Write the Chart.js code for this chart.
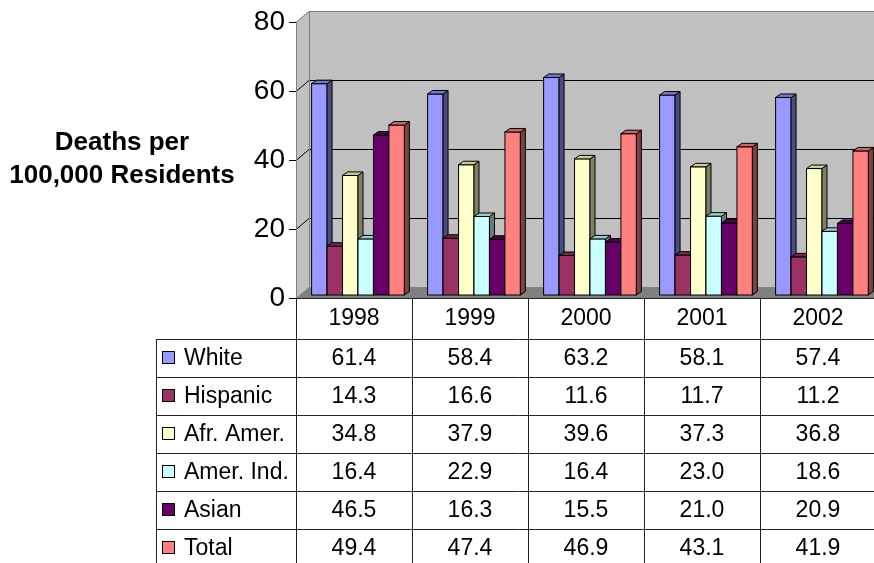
<!DOCTYPE html>
<html>
<head>
<meta charset="utf-8">
<script src="https://cdn.jsdelivr.net/npm/chart.js@4.4.1/dist/chart.umd.min.js"></script>
<style>
    html, body { margin: 0; padding: 0; background: #fff; overflow: hidden; }
    #wrap { width: 880px; height: 563px; }
</style>
</head>
<body>
<div id="wrap"><canvas id="deathChart" width="880" height="563"></canvas></div>
<script>
// Chart data
const years = ['1998', '1999', '2000', '2001', '2002'];
const seriesNames = ['White', 'Hispanic', 'Afr. Amer.', 'Amer. Ind.', 'Asian', 'Total'];
const white    = [61.4, 58.4, 63.2, 58.1, 57.4];
const hispanic = [14.3, 16.6, 11.6, 11.7, 11.2];
const afrAmer  = [34.8, 37.9, 39.6, 37.3, 36.8];
const amerInd  = [16.4, 22.9, 16.4, 23.0, 18.6];
const asian    = [46.5, 16.3, 15.5, 21.0, 20.9];
const total    = [49.4, 47.4, 46.9, 43.1, 41.9];
const yTicks   = [0, 20, 40, 60, 80];

const seriesValues = [white, hispanic, afrAmer, amerInd, asian, total];

// Excel style colours: front, side (dark), top
const frontColors = ['#9999FF', '#993366', '#FFFFCC', '#CCFFFF', '#660066', '#FF8080'];
const sideColors  = ['#4C4C80', '#4C1933', '#808066', '#668080', '#330033', '#804040'];
const topColors   = ['#7777CC', '#73264C', '#CCCC99', '#99CCCC', '#4C004C', '#CC6666'];

const FONT = '"Liberation Sans", Arial, sans-serif';
const WALL_DX = 13, WALL_DY = 11;   // depth of the back wall
const BAR_DX = 5, BAR_DY = 3.5;     // depth of each bar
const SHIFT_X = 4, SHIFT_Y = -2.5;  // bars sit a little into the floor

// Walls, floor and gridlines behind the bars, then 3D bars in series order
const wallsPlugin = {
    id: 'walls',
    beforeDatasetsDraw(chart) {
        const ctx = chart.ctx;
        const a = chart.chartArea;
        const yScale = chart.scales.y;
        ctx.save();
        // back wall
        ctx.fillStyle = '#C0C0C0';
        ctx.fillRect(a.left + WALL_DX, a.top - WALL_DY, a.right - a.left, a.bottom - a.top);
        // left wall
        ctx.beginPath();
        ctx.moveTo(a.left, a.top);
        ctx.lineTo(a.left + WALL_DX, a.top - WALL_DY);
        ctx.lineTo(a.left + WALL_DX, a.bottom - WALL_DY);
        ctx.lineTo(a.left, a.bottom);
        ctx.closePath();
        ctx.fill();
        // floor
        ctx.fillStyle = '#808080';
        ctx.beginPath();
        ctx.moveTo(a.left, a.bottom);
        ctx.lineTo(a.left + WALL_DX, a.bottom - WALL_DY);
        ctx.lineTo(a.right + WALL_DX, a.bottom - WALL_DY);
        ctx.lineTo(a.right, a.bottom);
        ctx.closePath();
        ctx.fill();

        // gridlines
        ctx.lineWidth = 1;
        yTicks.forEach(v => {
            if (v === 0) return;
            const y = Math.round(yScale.getPixelForValue(v)) + 0.5;
            ctx.strokeStyle = v === 80 ? '#808080' : '#000';
            ctx.beginPath();
            ctx.moveTo(a.left, y);
            ctx.lineTo(a.left + WALL_DX, y - WALL_DY);
            ctx.lineTo(a.right + WALL_DX, y - WALL_DY);
            ctx.stroke();
        });

        // wall edges
        ctx.strokeStyle = '#808080';
        ctx.beginPath();
        ctx.moveTo(a.left + 0.5, a.top);
        ctx.lineTo(a.left + 0.5, a.bottom);
        ctx.moveTo(a.left + WALL_DX + 0.5, a.top - WALL_DY);
        ctx.lineTo(a.left + WALL_DX + 0.5, a.bottom - WALL_DY);
        ctx.stroke();
        ctx.restore();
    },
    // the library's own flat bars are skipped, we draw them as boxes below
    beforeDatasetDraw() {
        return false;
    },
    afterDatasetsDraw(chart) {
        const ctx = chart.ctx;
        ctx.save();
        ctx.translate(SHIFT_X, SHIFT_Y);
        ctx.lineWidth = 1;
        ctx.strokeStyle = '#000';
        chart.data.datasets.forEach((ds, idx) => {
            const meta = chart.getDatasetMeta(idx);
            meta.data.forEach(bar => {
                const p = bar.getProps(['x', 'y', 'base', 'width'], true);
                const l = p.x - p.width / 2, r = p.x + p.width / 2;
                const t = p.y, b = p.base;
                // front face
                ctx.fillStyle = frontColors[idx];
                ctx.fillRect(l, t, r - l, b - t);
                ctx.strokeRect(l, t, r - l, b - t);
                // side face
                ctx.fillStyle = sideColors[idx];
                ctx.beginPath();
                ctx.moveTo(r, t);
                ctx.lineTo(r + BAR_DX, t - BAR_DY);
                ctx.lineTo(r + BAR_DX, b - BAR_DY);
                ctx.lineTo(r, b);
                ctx.closePath();
                ctx.fill();
                ctx.stroke();
                // top face
                ctx.fillStyle = topColors[idx];
                ctx.beginPath();
                ctx.moveTo(l, t);
                ctx.lineTo(l + BAR_DX, t - BAR_DY);
                ctx.lineTo(r + BAR_DX, t - BAR_DY);
                ctx.lineTo(r, t);
                ctx.closePath();
                ctx.fill();
                ctx.stroke();
            });
        });
        ctx.restore();
    }
};

// Axis title and the data table under the chart
const tablePlugin = {
    id: 'dataTable',
    afterDraw(chart) {
        const ctx = chart.ctx;
        const a = chart.chartArea;
        const xScale = chart.scales.x;
        const colW = (a.right - a.left) / years.length;
        const headTop = a.bottom;
        const rowsTop = headTop + 41;
        const rowH = 38;
        const legendLeft = 156;
        const tableBottom = rowsTop + rowH * seriesNames.length;

        ctx.save();
        // title
        ctx.fillStyle = '#000';
        ctx.font = 'bold 26px ' + FONT;
        ctx.textAlign = 'center';
        ctx.textBaseline = 'middle';
        ctx.fillText('Deaths per', 122, 143);
        ctx.fillText('100,000 Residents', 122, 176);

        // grid lines
        ctx.strokeStyle = '#222';
        ctx.lineWidth = 1;
        ctx.beginPath();
        ctx.moveTo(a.left, headTop + 0.5);
        ctx.lineTo(a.right + 10, headTop + 0.5);
        for (let i = 0; i <= seriesNames.length; i++) {
            const y = Math.round(rowsTop + i * rowH) + 0.5;
            ctx.moveTo(legendLeft, y);
            ctx.lineTo(a.right + 10, y);
        }
        for (let i = 0; i <= years.length; i++) {
            const x = Math.round(a.left + i * colW) + 0.5;
            ctx.moveTo(x, headTop);
            ctx.lineTo(x, tableBottom);
        }
        ctx.moveTo(legendLeft + 0.5, rowsTop);
        ctx.lineTo(legendLeft + 0.5, tableBottom);
        ctx.stroke();

        // header years
        ctx.font = '23px ' + FONT;
        ctx.textAlign = 'center';
        years.forEach((yr, i) => {
            ctx.fillText(yr, xScale.getPixelForValue(i), headTop + 21);
        });

        // rows
        seriesNames.forEach((name, s) => {
            const cy = rowsTop + s * rowH + rowH / 2;
            ctx.fillStyle = frontColors[s];
            ctx.fillRect(162.5, cy - 6.5, 12, 12);
            ctx.strokeStyle = '#000';
            ctx.strokeRect(162.5, cy - 6.5, 12, 12);
            ctx.fillStyle = '#000';
            ctx.textAlign = 'left';
            ctx.fillText(name, 184, cy + 1);
            ctx.textAlign = 'center';
            seriesValues[s].forEach((v, i) => {
                ctx.fillText(v.toFixed(1), xScale.getPixelForValue(i), cy + 1);
            });
        });
        ctx.restore();
    }
};

const datasets = seriesNames.map((name, i) => ({
    label: name,
    data: seriesValues[i],
    backgroundColor: frontColors[i],
    borderColor: '#000',
    borderWidth: 1,
    barPercentage: 1.0,
    categoryPercentage: 0.8
}));

new Chart(document.getElementById('deathChart'), {
    type: 'bar',
    data: { labels: years, datasets: datasets },
    options: {
        responsive: false,
        animation: false,
        layout: { padding: { top: 22, right: 4, bottom: 265, left: 0 } },
        plugins: {
            legend: { display: false },
            tooltip: { enabled: false }
        },
        scales: {
            x: { display: false },
            y: {
                min: 0,
                max: 80,
                ticks: {
                    stepSize: 20,
                    color: '#000',
                    padding: 4,
                    font: { family: FONT, size: 28 }
                },
                grid: { drawOnChartArea: false, color: '#000', tickLength: 7 },
                border: { display: false },
                afterFit(scale) { scale.width = 296; }
            }
        }
    },
    plugins: [wallsPlugin, tablePlugin]
});
</script>
</body>
</html>
